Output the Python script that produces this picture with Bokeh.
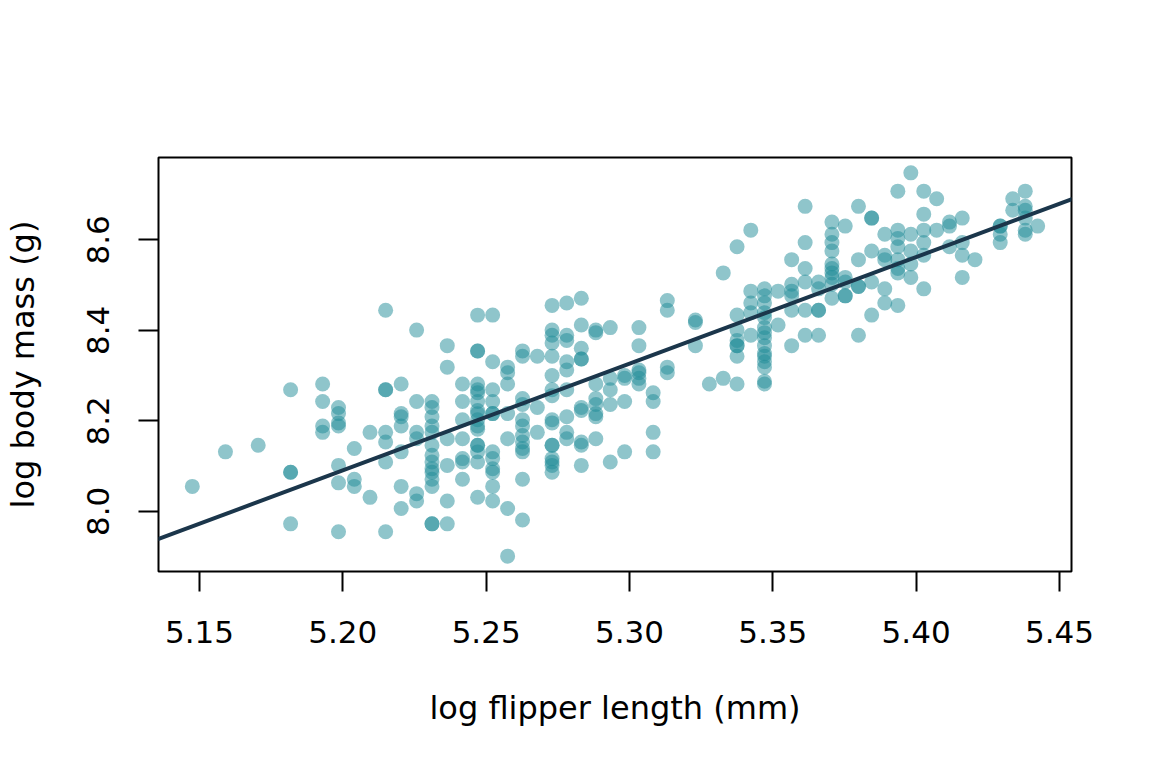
import numpy as np
from bokeh.plotting import figure
from bokeh.models import Range1d, FixedTicker, PrintfTickFormatter, Slope
from bokeh.embed import file_html
from bokeh.resources import INLINE

# Flipper length (mm) and body mass (g)
flipper_mm = [
    172,
    174,
    176,
    178, 178, 178, 178,
    180, 180, 180, 180,
    181, 181, 181, 181, 181, 181, 181,
    182, 182, 182,
    183, 183,
    184, 184, 184, 184, 184, 184, 184,
    185, 185, 185, 185, 185, 185, 185,
    186, 186, 186, 186, 186, 186,
    187, 187, 187, 187, 187, 187, 187, 187, 187, 187, 187, 187, 187, 187,
    188, 188, 188, 188, 188, 188,
    189, 189, 189, 189, 189, 189, 189,
    190, 190, 190, 190, 190, 190, 190, 190, 190, 190, 190, 190, 190, 190, 190, 190, 190,
    191, 191, 191, 191, 191, 191, 191, 191, 191, 191, 191, 191,
    192, 192, 192, 192, 192, 192, 192,
    193, 193, 193, 193, 193, 193, 193, 193, 193, 193, 193, 193,
    194, 194, 194,
    195, 195, 195, 195, 195, 195, 195, 195, 195, 195, 195, 195, 195, 195, 195, 195,
    196, 196, 196, 196, 196, 196, 196, 196, 196,
    197, 197, 197, 197, 197, 197, 197, 197, 197, 197,
    198, 198, 198, 198, 198, 198, 198, 198,
    199, 199, 199, 199, 199,
    200, 200, 200, 200,
    201, 201, 201, 201, 201, 201,
    202, 202, 202, 202,
    203, 203, 203, 203,
    205, 205, 205,
    206,
    207, 207,
    208, 208, 208, 208, 208, 208, 208, 208,
    209, 209, 209, 209, 209,
    210, 210, 210, 210, 210, 210, 210, 210, 210, 210, 210, 210, 210, 210, 210,
    211, 211,
    212, 212, 212, 212, 212, 212,
    213, 213, 213, 213, 213, 213,
    214, 214, 214, 214, 214,
    215, 215, 215, 215, 215, 215, 215, 215, 215, 215,
    216, 216, 216, 216, 216,
    217, 217, 217, 217, 217,
    218, 218, 218, 218, 218,
    219, 219, 219, 219, 219,
    220, 220, 220, 220, 220, 220, 220, 220,
    221, 221, 221, 221, 221,
    222, 222, 222, 222, 222, 222,
    223, 223,
    224, 224, 224,
    225, 225, 225, 225,
    226,
    228, 228, 228, 228,
    229, 229,
    230, 230, 230, 230, 230, 230,
    231,
]

body_mass_g = [
    3150,
    3400,
    3450,
    3900, 3250, 3250, 2900,
    3950, 3800, 3600, 3550,
    3750, 3700, 3625, 3600, 3300, 3175, 2850,
    3425, 3200, 3150,
    3550, 3075,
    4650, 3900, 3900, 3550, 3475, 3325, 2850,
    3950, 3700, 3675, 3600, 3400, 3150, 3000,
    4450, 3800, 3550, 3500, 3100, 3050,
    3800, 3750, 3675, 3600, 3550, 3450, 3375, 3325, 3275, 3250, 3200, 3150, 2900, 2900,
    4300, 4100, 3500, 3300, 3050, 2900,
    3950, 3800, 3650, 3500, 3350, 3325, 3200,
    4600, 4250, 4250, 3950, 3900, 3875, 3800, 3725, 3700, 3650, 3600, 3575, 3450, 3450, 3400, 3325, 3075,
    4600, 4150, 3900, 3800, 3700, 3700, 3400, 3350, 3275, 3250, 3150, 3050,
    4100, 4050, 3950, 3700, 3500, 3000, 2700,
    4250, 4200, 3825, 3775, 3650, 3600, 3525, 3475, 3425, 3400, 3200, 2925,
    4200, 3750, 3550,
    4700, 4450, 4400, 4325, 4200, 4025, 3900, 3850, 3650, 3625, 3450, 3450, 3350, 3325, 3300, 3250,
    4725, 4400, 4350, 4150, 4075, 3900, 3675, 3550, 3500,
    4775, 4500, 4275, 4175, 4175, 3750, 3725, 3475, 3450, 3300,
    4450, 4425, 3950, 3825, 3775, 3700, 3675, 3500,
    4475, 4000, 3900, 3775, 3325,
    4025, 4000, 3800, 3400,
    4475, 4300, 4075, 4050, 4000, 3950,
    3875, 3800, 3550, 3400,
    4750, 4650, 4100, 4050,
    4550, 4525, 4300,
    3950,
    5050, 4000,
    5350, 4600, 4450, 4350, 4300, 4300, 4200, 3950,
    5550, 4850, 4725, 4625, 4400,
    4875, 4800, 4725, 4625, 4575, 4475, 4425, 4375, 4300, 4225, 4200, 4150, 4100, 3975, 3950,
    4850, 4500,
    5200, 4925, 4850, 4800, 4650, 4300,
    5850, 5400, 5100, 4950, 4650, 4400,
    4950, 4875, 4650, 4650, 4400,
    5650, 5500, 5400, 5300, 5150, 5100, 5050, 5000, 4925, 4775,
    5600, 5000, 4950, 4800, 4800,
    5850, 5200, 4900, 4900, 4400,
    5700, 5700, 5300, 4950, 4600,
    5500, 5250, 5200, 4875, 4725,
    6050, 5550, 5450, 5350, 5200, 5100, 5050, 4700,
    6300, 5500, 5300, 5150, 5000,
    6050, 5750, 5550, 5400, 5250, 4875,
    5950, 5550,
    5650, 5600, 5350,
    5700, 5400, 5250, 5000,
    5200,
    5600, 5600, 5500, 5400,
    5950, 5800,
    6050, 5850, 5800, 5700, 5550, 5500,
    5600,
]

x_ticks = [5.15, 5.20, 5.25, 5.30, 5.35, 5.40, 5.45]
y_ticks = [8.0, 8.2, 8.4, 8.6]
x_title = "log flipper length (mm)"
y_title = "log body mass (g)"

log_flipper = np.log(np.array(flipper_mm, dtype=float))
log_mass = np.log(np.array(body_mass_g, dtype=float))

# least-squares line through the data (as abline(lm(...)))
slope, intercept = np.polyfit(log_flipper, log_mass, 1)

# R-style axis ranges: data range extended by 4 % on each side
def r_range(v):
    lo, hi = float(np.min(v)), float(np.max(v))
    pad = 0.04 * (hi - lo)
    return Range1d(lo - pad, hi + pad)

FONT = "DejaVu Sans"

p = figure(
    width=1144, height=758,
    x_range=r_range(log_flipper), y_range=r_range(log_mass),
    output_backend="svg", toolbar_location=None,
    min_border_left=157, min_border_right=73,
    min_border_top=157, min_border_bottom=187,
    background_fill_color="white", border_fill_color="white",
)
p.xgrid.visible = False
p.ygrid.visible = False
p.outline_line_color = "black"
p.outline_line_width = 2
p.outline_line_alpha = 1.0

p.scatter(log_flipper, log_mass, size=15, marker="circle",
          fill_color="#1f8b98", fill_alpha=0.5, line_color=None)

p.add_layout(Slope(gradient=slope, y_intercept=intercept,
                   line_color="#1b364b", line_width=4))

for ax, ticks, fmt in ((p.xaxis, x_ticks, "%.2f"), (p.yaxis, y_ticks, "%.1f")):
    ax.ticker = FixedTicker(ticks=ticks)
    ax.formatter = PrintfTickFormatter(format=fmt)
    ax.axis_line_color = None
    ax.major_tick_line_color = "black"
    ax.major_tick_line_width = 2
    ax.major_tick_out = 20
    ax.major_tick_in = 0
    ax.minor_tick_line_color = None
    ax.major_label_text_font = FONT
    ax.major_label_text_font_size = "31px"
    ax.major_label_text_color = "black"
    ax.axis_label_text_font = FONT
    ax.axis_label_text_font_size = "32px"
    ax.axis_label_text_font_style = "normal"
    ax.axis_label_text_color = "black"

p.xaxis.axis_label = x_title
p.yaxis.axis_label = y_title
p.xaxis.major_label_standoff = 29
p.xaxis.axis_label_standoff = 43
p.yaxis.major_label_orientation = "vertical"
p.yaxis.major_label_standoff = 29
p.yaxis.axis_label_standoff = 43

open("out.html", "w").write(file_html(p, INLINE))
